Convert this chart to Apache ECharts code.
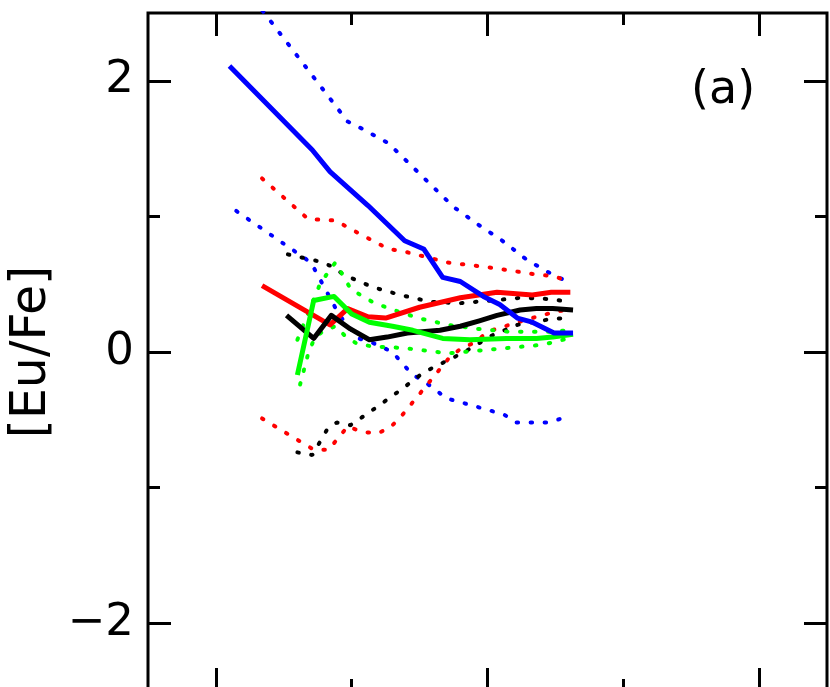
<!DOCTYPE html>
<html>
<head>
<meta charset="utf-8">
<script src="https://cdn.jsdelivr.net/npm/echarts@6/dist/echarts.min.js"></script>
<style>
  html, body { margin: 0; padding: 0; background: #fff; }
  #chart { width: 830px; height: 687px; }
</style>
</head>
<body>
<div id="chart"></div>
<script>
// axis ticks and labels
var xMajor = [-4, -2, 0];
var xMinor = [-3, -1];
var yMajor = [-2, 0, 2];
var yMinor = [-1, 1];
var yTickText = ['\u22122', '0', '2'];

// [Fe/H], [Eu/Fe]
var blueSolid = [[-3.90,2.11],[-3.29,1.49],[-3.16,1.33],[-2.88,1.08],[-2.61,0.82],[-2.47,0.76],[-2.33,0.55],[-2.20,0.52],[-2.03,0.41],[-1.91,0.35],[-1.78,0.25],[-1.67,0.22],[-1.51,0.14],[-1.37,0.14]];
var blueUpper = [[-3.72,2.60],[-3.03,1.70],[-2.93,1.65],[-2.73,1.54],[-2.25,1.07],[-2.07,0.94],[-1.89,0.82],[-1.71,0.68],[-1.52,0.57],[-1.41,0.52]];
var blueLower = [[-3.85,1.04],[-3.30,0.66],[-3.09,0.27],[-2.95,0.10],[-2.85,0.07],[-2.70,0.00],[-2.56,-0.16],[-2.39,-0.27],[-2.31,-0.34],[-2.20,-0.37],[-1.88,-0.46],[-1.79,-0.52],[-1.56,-0.52],[-1.45,-0.49]];

var redSolid = [[-3.66,0.49],[-3.16,0.20],[-3.03,0.32],[-2.88,0.26],[-2.75,0.25],[-2.50,0.33],[-2.20,0.40],[-1.93,0.44],[-1.67,0.42],[-1.53,0.44],[-1.39,0.44]];
var redUpper = [[-3.66,1.28],[-3.32,0.98],[-3.12,0.97],[-2.92,0.86],[-2.73,0.76],[-2.61,0.74],[-2.29,0.66],[-1.96,0.62],[-1.63,0.57],[-1.51,0.56],[-1.41,0.52]];
var redLower = [[-3.66,-0.49],[-3.28,-0.72],[-3.17,-0.72],[-3.03,-0.55],[-2.92,-0.59],[-2.81,-0.60],[-2.72,-0.56],[-2.64,-0.48],[-2.28,-0.04],[-2.19,0.03],[-2.09,0.07],[-2.00,0.15],[-1.71,0.24],[-1.49,0.30],[-1.41,0.31]];

var greenSolid = [[-3.40,-0.17],[-3.28,0.38],[-3.13,0.41],[-3.00,0.28],[-2.87,0.22],[-2.70,0.19],[-2.55,0.16],[-2.33,0.10],[-2.13,0.09],[-1.86,0.10],[-1.64,0.10],[-1.52,0.11],[-1.37,0.13]];
var greenUpper = [[-3.40,0.09],[-3.23,0.51],[-3.12,0.66],[-3.01,0.47],[-2.92,0.41],[-2.83,0.36],[-2.72,0.32],[-2.51,0.25],[-2.29,0.20],[-2.07,0.17],[-1.85,0.15],[-1.63,0.15],[-1.52,0.15],[-1.41,0.16]];
var greenLower = [[-3.38,-0.24],[-3.32,-0.01],[-3.27,0.11],[-3.20,0.16],[-3.12,0.19],[-3.05,0.12],[-2.96,0.06],[-2.84,0.04],[-2.62,0.03],[-2.29,-0.01],[-2.07,0.01],[-1.85,0.03],[-1.63,0.05],[-1.52,0.07],[-1.41,0.10]];

var blackSolid = [[-3.48,0.27],[-3.28,0.10],[-3.15,0.27],[-3.01,0.17],[-2.87,0.09],[-2.74,0.11],[-2.59,0.14],[-2.35,0.16],[-2.20,0.19],[-2.06,0.23],[-1.93,0.27],[-1.76,0.31],[-1.64,0.32],[-1.52,0.32],[-1.37,0.31]];
var blackUpper = [[-3.47,0.72],[-3.25,0.67],[-3.14,0.63],[-3.06,0.57],[-2.85,0.48],[-2.64,0.42],[-2.42,0.37],[-2.20,0.36],[-1.97,0.38],[-1.75,0.40],[-1.53,0.39],[-1.41,0.37]];
var blackLower = [[-3.40,-0.74],[-3.29,-0.76],[-3.18,-0.57],[-3.11,-0.52],[-3.01,-0.54],[-2.82,-0.41],[-2.64,-0.28],[-2.47,-0.15],[-2.37,-0.10],[-2.17,0.00],[-1.97,0.12],[-1.78,0.20],[-1.55,0.24],[-1.44,0.25]];

var FONT = 'DejaVu Sans';

function tickAxis(pos, vals, len, isY) {
    return {
        type: 'value',
        position: pos,
        min: isY ? -2.5 : -4.5,
        max: isY ? 2.5 : 0.5,
        axisLine: { show: false, onZero: false },
        splitLine: { show: false },
        axisLabel: { show: false },
        axisTick: {
            show: true,
            inside: true,
            length: len,
            customValues: vals,
            lineStyle: { color: '#000', width: 3 }
        }
    };
}

function line(data, color, dotted) {
    return {
        type: 'line',
        data: data,
        symbol: 'none',
        clip: true,
        lineStyle: dotted
            ? { color: color, width: 4, type: [1.5, 12.5], cap: 'round' }
            : { color: color, width: 5, join: 'round' }
    };
}

var chart = echarts.init(document.getElementById('chart'));

var yLeft = tickAxis('left', yMajor, 23, true);
yLeft.axisLabel = {
    show: true,
    customValues: yMajor,
    margin: 14,
    fontFamily: FONT,
    fontSize: 45,
    color: '#000',
    formatter: function (v) { return yTickText[yMajor.indexOf(v)]; }
};
yLeft.name = '[Eu/Fe]';
yLeft.nameLocation = 'middle';
yLeft.nameRotate = 90;
yLeft.nameGap = 88;
yLeft.nameTextStyle = { fontFamily: FONT, fontSize: 49, color: '#000' };

var option = {
    animation: false,
    backgroundColor: '#fff',
    grid: {
        left: 148, top: 13, width: 679, height: 678,
        containLabel: false,
        outerBoundsMode: 'none',
        show: true, borderColor: '#000', borderWidth: 3,
        backgroundColor: 'transparent'
    },
    xAxis: [
        tickAxis('bottom', xMajor, 23),
        tickAxis('bottom', xMinor, 12),
        tickAxis('top', xMajor, 23),
        tickAxis('top', xMinor, 12)
    ],
    yAxis: [
        yLeft,
        tickAxis('left', yMinor, 12, true),
        tickAxis('right', yMajor, 23, true),
        tickAxis('right', yMinor, 12, true)
    ],
    graphic: [{
        type: 'text',
        left: 691,
        top: 68,
        style: { text: '(a)', font: '46px "DejaVu Sans"', fill: '#000' }
    }],
    series: [
        line(blueUpper, '#0000ff', true),
        line(blueLower, '#0000ff', true),
        line(redUpper, '#ff0000', true),
        line(redLower, '#ff0000', true),
        line(blackUpper, '#000000', true),
        line(blackLower, '#000000', true),
        line(greenUpper, '#00ff00', true),
        line(greenLower, '#00ff00', true),
        line(redSolid, '#ff0000', false),
        line(blackSolid, '#000000', false),
        line(greenSolid, '#00ff00', false),
        line(blueSolid, '#0000ff', false)
    ]
};

chart.setOption(option);
</script>
</body>
</html>
